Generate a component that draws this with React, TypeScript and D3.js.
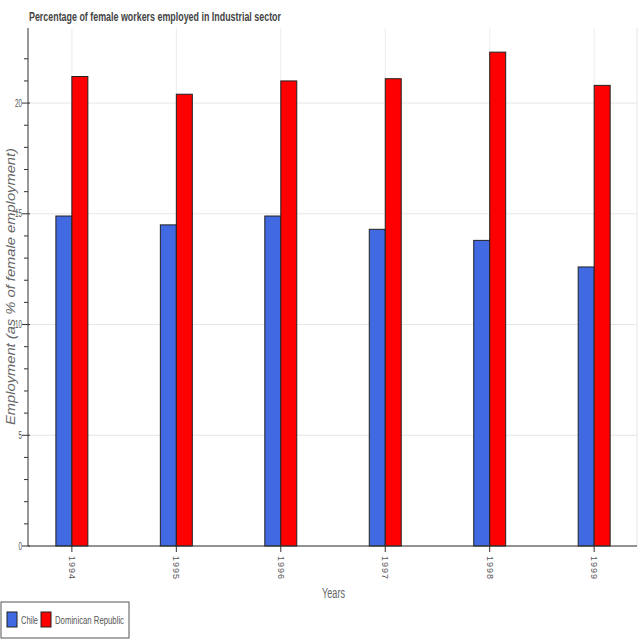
import React from "react";
import * as d3 from "d3";

const years = ["1994", "1995", "1996", "1997", "1998", "1999"];
const chile = [14.9, 14.5, 14.9, 14.3, 13.8, 12.6];
const dominican = [21.2, 20.4, 21.0, 21.1, 22.3, 20.8];
const seriesNames = ["Chile", "Dominican Republic"];
const seriesColors = ["#4169E1", "#FF0000"];
const majorTicks = [0, 5, 10, 15, 20];
const minorTicks = [1, 2, 3, 4, 6, 7, 8, 9, 11, 12, 13, 14, 16, 17, 18, 19, 21, 22];

export default function App() {
  const W = 640, H = 640;
  const left = 28, right = 637, top = 28, bottom = 546;
  const x = d3.scaleLinear().domain([-0.42, 5.41]).range([left, right]);
  const y = d3.scaleLinear().domain([0, 23.39]).range([bottom, top]);
  const bw = x(0.153) - x(0);
  const font = "'Liberation Sans', Arial, sans-serif";
  const series = [chile, dominican];
  const legendX = [7, 41];
  const legendTextLen = [17, 69];
  return (
    <svg width={W} height={H} style={{ position: "absolute", left: 0, top: 0, background: "#fff" }}>
      <rect x={0} y={0} width={W} height={H} fill="#fff" />
      {majorTicks.map((t) => (
        <line key={"g" + t} x1={left} x2={right} y1={y(t)} y2={y(t)} stroke="#e6e6e6" strokeWidth={1} />
      ))}
      {years.map((yr, i) => (
        <line key={"vg" + yr} x1={x(i)} x2={x(i)} y1={top} y2={bottom} stroke="#ececec" strokeWidth={1} />
      ))}
      <line x1={right} x2={right} y1={top} y2={bottom} stroke="#e6e6e6" />
      {series.map((vals, s) =>
        vals.map((v, i) => (
          <rect
            key={s + "-" + i}
            x={s === 0 ? x(i) - bw : x(i)}
            y={y(v)}
            width={bw}
            height={bottom - y(v)}
            fill={seriesColors[s]}
            stroke="#222"
            strokeWidth={1}
          />
        ))
      )}
      <line x1={left} x2={left} y1={top} y2={bottom} stroke="#333" strokeWidth={1} />
      {majorTicks.map((t) => (
        <g key={"yt" + t}>
          <line x1={left - 6} x2={left + 2} y1={y(t)} y2={y(t)} stroke="#333" />
          <text
            x={left - 6}
            y={y(t)}
            dy="0.35em"
            textAnchor="end"
            fontSize={10}
            fill="#555"
            fontFamily={font}
            textLength={String(t).length * 3.5}
            lengthAdjust="spacingAndGlyphs"
          >
            {t}
          </text>
        </g>
      ))}
      {minorTicks.map((t) => (
        <line key={"ym" + t} x1={left - 4} x2={left} y1={y(t)} y2={y(t)} stroke="#333" />
      ))}
      <line x1={left} x2={right} y1={bottom} y2={bottom} stroke="#333" strokeWidth={1} />
      {years.map((yr, i) => (
        <g key={"xt" + yr}>
          <line x1={x(i)} x2={x(i)} y1={bottom - 2} y2={bottom + 6} stroke="#333" />
          <text
            transform={`translate(${x(i)},${bottom + 10}) rotate(90)`}
            dy="0.35em"
            textAnchor="start"
            fontSize={9}
            fill="#555"
            fontFamily={font}
            textLength={23}
            lengthAdjust="spacing"
          >
            {yr}
          </text>
        </g>
      ))}
      <text x={29} y={21} fontSize={12.5} fontWeight="bold" fill="#444" fontFamily={font} textLength={252} lengthAdjust="spacingAndGlyphs">
        Percentage of female workers employed in Industrial sector
      </text>
      <text
        transform={`translate(10,${(148 + 425) / 2}) rotate(-90)`}
        textAnchor="middle"
        dy="0.35em"
        fontSize={13}
        fontStyle="italic"
        fill="#666"
        fontFamily={font}
        textLength={277}
        lengthAdjust="spacingAndGlyphs"
      >
        Employment (as % of female employment)
      </text>
      <text x={322} y={598} fontSize={14} fill="#666" fontFamily={font} textLength={23} lengthAdjust="spacingAndGlyphs">
        Years
      </text>
      <rect x={1} y={602} width={128} height={36} fill="#fff" stroke="#555" strokeWidth={1} />
      {seriesNames.map((n, i) => (
        <g key={"lg" + n}>
          <rect x={legendX[i]} y={612} width={10} height={15} fill={seriesColors[i]} stroke="#222" strokeWidth={1} />
          <text
            x={legendX[i] + 14}
            y={620}
            dy="0.35em"
            fontSize={11}
            fill="#555"
            fontFamily={font}
            textLength={legendTextLen[i]}
            lengthAdjust="spacingAndGlyphs"
          >
            {n}
          </text>
        </g>
      ))}
    </svg>
  );
}
